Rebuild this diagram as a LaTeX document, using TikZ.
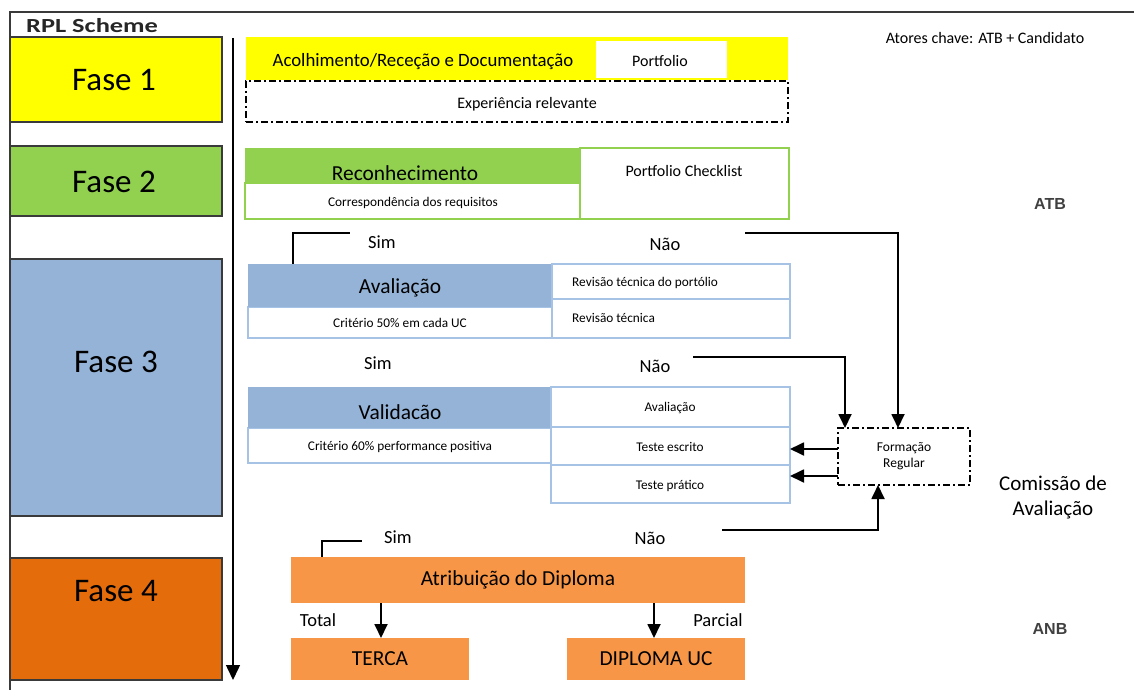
\documentclass[tikz,border=0pt]{standalone}
\usepackage{fontspec}
\setmainfont{Carlito}
\newfontfamily\arialf{Liberation Sans}
\usetikzlibrary{arrows.meta}
\definecolor{ylw}{HTML}{FFFF00}
\definecolor{grn}{HTML}{92D050}
\definecolor{blu}{HTML}{95B3D7}
\definecolor{bluline}{HTML}{A6C2E4}
\definecolor{org}{HTML}{E46C0A}
\definecolor{lorg}{HTML}{F79646}
\definecolor{edgec}{HTML}{3A3A3A}
\newcommand\fsz[2]{\fontsize{#1}{#2}\selectfont}
\begin{document}
\begin{tikzpicture}[x=1pt,y=-1pt,
  rectbox/.style={inner sep=0pt,outer sep=0pt},
  phase/.style={rectbox,draw=edgec,line width=1.2pt},
  grnbox/.style={rectbox,draw=grn,line width=1.4pt,fill=white},
  blubox/.style={rectbox,draw=bluline,line width=1.4pt,fill=white},
  dashdotbox/.style={rectbox,draw=black,line width=1.2pt,dash pattern=on 7pt off 3pt on 2pt off 3pt},
  conn/.style={line width=1.8pt},
  arr/.style={conn,-{Triangle[width=13pt,length=14pt]}},
  txt/.style={inner sep=0pt},
  phasetxt/.style={txt,font=\fsz{33}{38}},
  headtxt/.style={txt,font=\fsz{21.4}{25}},
  smalltxt/.style={txt,font=\fsz{13.3}{16}},
  midtxt/.style={txt,font=\fsz{16}{19}},
  yntxt/.style={txt,font=\fsz{18.5}{22}},
]
\useasboundingbox (0,0) rectangle (1134,690);
% frame
\draw[line width=1.5pt,edgec] (1134,12) -- (10,12) -- (10,690);
\node[txt,anchor=west,font=\bfseries\fsz{20}{24},text=black!85] (title) at (26,26) {\scalebox{1.32}[1]{RPL Scheme}};

% phase boxes
\node[phase,fill=ylw,minimum width=212,minimum height=85] (f1) at (116,79.5) {};
\node[phase,fill=grn,minimum width=212,minimum height=70] (f2) at (116,181) {};
\node[phase,fill=blu,minimum width=212,minimum height=257] (f3) at (116,387.5) {};
\node[phase,fill=org,minimum width=212,minimum height=122] (f4) at (116,619) {};
\node[phasetxt] (f1t) at (114,80) {Fase 1};
\node[phasetxt] (f2t) at (114,182) {Fase 2};
\node[phasetxt] (f3t) at (116,362) {Fase 3};
\node[phasetxt] (f4t) at (116,591) {Fase 4};

% main time arrow
\coordinate (tstart) at (233,38);
\coordinate (tend) at (233,680);
\draw[line width=1.5pt,-{Triangle[width=14pt,length=15pt]}] (tstart) -- (tend);

% Fase 1 row
\node[rectbox,fill=ylw,minimum width=542,minimum height=43] (acol) at (517,58.5) {};
\node[rectbox,fill=white,minimum width=131,minimum height=37] (port) at (661.5,59.5) {};
\node[txt,font=\fsz{18.8}{22}] (acolt) at (423,61.5) {Acolhimento/Receção e Documentação};
\node[midtxt] (portt) at (660,61.5) {Portfolio};
\node[dashdotbox,minimum width=542,minimum height=41] (exp) at (517,101.5) {};
\node[midtxt] (expt) at (527,104.5) {Experiência relevante};

% Fase 2 row
\node[grnbox,minimum width=209,minimum height=71] (chk) at (684.5,183.5) {};
\node[grnbox,minimum width=335,minimum height=36] (corr) at (412.5,201) {};
\node[rectbox,fill=grn,minimum width=335,minimum height=35] (rec) at (412.5,165.5) {};
\node[headtxt] (rect) at (405,173) {Reconhecimento};
\node[smalltxt] (corrt) at (413,202.5) {Correspondência dos requisitos};
\node[midtxt] (chkt) at (684,171.5) {Portfolio Checklist};

% Avaliação
\node[blubox,minimum width=304,minimum height=31] (avs) at (400,322.5) {};
\node[rectbox,fill=blu,minimum width=304,minimum height=43] (avh) at (400,285.5) {};
\node[blubox,minimum width=238,minimum height=35] (rv1) at (671,281.5) {};
\node[blubox,minimum width=238,minimum height=39] (rv2) at (671,318.5) {};
\node[headtxt] (avht) at (400,288) {Avaliação};
\node[smalltxt] (avst) at (400,322.5) {Critério 50\% em cada UC};
\node[smalltxt,anchor=west] (rv1t) at (572,283) {Revisão técnica do portólio};
\node[smalltxt,anchor=west] (rv2t) at (572,318) {Revisão técnica};

% Validação
\node[blubox,minimum width=303,minimum height=35] (vas) at (399.5,445.5) {};
\node[rectbox,fill=blu,minimum width=303,minimum height=41] (vah) at (399.5,407.5) {};
\node[blubox,minimum width=239,minimum height=40] (va1) at (670.5,407) {};
\node[blubox,minimum width=239,minimum height=38] (va2) at (670.5,446) {};
\node[blubox,minimum width=239,minimum height=38] (va3) at (670.5,484) {};
\node[headtxt] (vaht) at (400,412) {Validacão};
\node[smalltxt] (vast) at (400,446.5) {Critério 60\% performance positiva};
\node[smalltxt] (va1t) at (670,407.5) {Avaliação};
\node[smalltxt] (va2t) at (670,446.5) {Teste escrito};
\node[smalltxt] (va3t) at (670,485.5) {Teste prático};

% Formação Regular
\node[dashdotbox,fill=white,minimum width=132,minimum height=57,font=\fsz{13.5}{16},align=center] (form) at (904,456.5) {Formação\\Regular};

% Fase 4
\node[rectbox,fill=lorg,minimum width=454,minimum height=46,font=\fsz{21.4}{25}] (atr) at (518,580) {\raisebox{-1.5pt}{Atribuição do Diploma}};
\node[rectbox,fill=lorg,minimum width=178,minimum height=42,font=\fsz{21.4}{25}] (terca) at (380,659) {\raisebox{-1.5pt}{TERCA}};
\node[rectbox,fill=lorg,minimum width=178,minimum height=42,font=\fsz{21.4}{25}] (dipl) at (656,659) {\raisebox{-1.5pt}{DIPLOMA UC}};

% labels
\node[yntxt] (s1) at (382,242.5) {Sim};
\node[yntxt] (n1) at (665,244.5) {Não};
\node[yntxt] (s2) at (378,363.5) {Sim};
\node[yntxt] (n2) at (655,366.5) {Não};
\node[yntxt] (s3) at (398,537.5) {Sim};
\node[yntxt] (n3) at (650,538.5) {Não};
\node[yntxt] (tot) at (318,620.5) {Total};
\node[yntxt] (par) at (718,620.5) {Parcial};

\node[txt,font=\fsz{16}{19}] (atores) at (985,38.5) {Atores chave: ATB + Candidato};
\node[txt,font=\arialf\bfseries\fsz{16}{19},text=black!75] (atb) at (1050,204) {ATB};
\node[txt,font=\arialf\bfseries\fsz{16}{19},text=black!75] (anb) at (1050,629) {ANB};
\node[txt,font=\fsz{21}{25},align=center] (com) at (1053,497) {Comissão de\\Avaliação};

% connectors
\coordinate (s1a) at (350,233);
\draw[conn] (avh.north -| 293,0) |- (s1a);
\coordinate (n1a) at (745,233);
\draw[arr] (n1a) -| (form.north -| 898,0);
\coordinate (n2a) at (693,357);
\draw[arr] (n2a) -| (form.north -| 845,0);
\coordinate (n3a) at (722,530);
\draw[arr] (n3a) -| (form.south -| 878,0);
\draw[arr] (form.west |- 0,449) -- (va2.east |- 0,449);
\draw[arr] (form.west |- 0,476) -- (va3.east |- 0,476);
\coordinate (s3a) at (362,541);
\draw[conn] (atr.north -| 322,0) |- (s3a);
\draw[arr] (atr.south -| 381,0) -- (terca.north -| 381,0);
\draw[arr] (atr.south -| 654,0) -- (dipl.north -| 654,0);
\end{tikzpicture}
\end{document}
